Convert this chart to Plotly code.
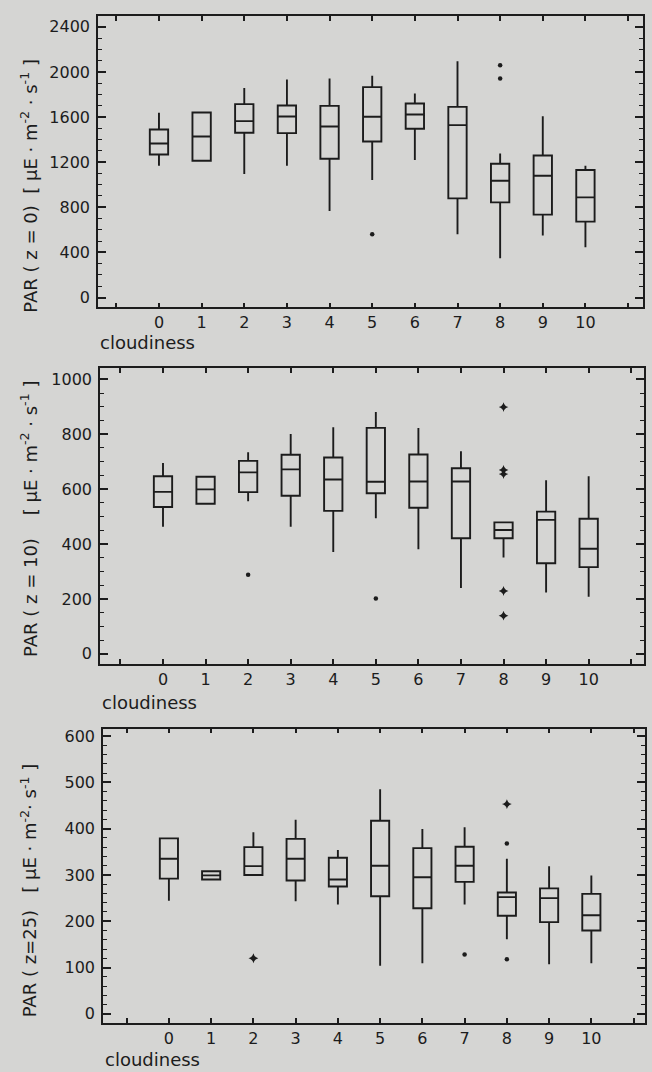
import plotly.graph_objects as go

# ---------------- data ----------------
categories = list(range(11))
xtick_vals = categories
xtick_text = [str(c) for c in categories]
xtick_extra = [-1, 11]   # unlabeled end ticks

# Panel 1: PAR (z = 0)
z0_low = [1168, 1212, 1095, 1168, 767, 1041, 1219, 560, 348, 549, 445]
z0_q1 = [1268, 1212, 1460, 1457, 1230, 1383, 1496, 879, 843, 735, 673]
z0_med = [1366, 1428, 1564, 1605, 1516, 1602, 1622, 1528, 1035, 1080, 888]
z0_q3 = [1490, 1640, 1714, 1702, 1699, 1865, 1720, 1690, 1186, 1259, 1130]
z0_high = [1637, 1640, 1858, 1932, 1941, 1965, 1808, 2095, 1277, 1608, 1168]
z0_dot_x = [5, 8, 8]
z0_dot_y = [560, 2059, 1941]
z0_star_x = []
z0_star_y = []

# Panel 2: PAR (z = 10)
z10_low = [463, 547, 556, 463, 371, 494, 381, 240, 351, 224, 208]
z10_q1 = [535, 547, 589, 576, 521, 585, 532, 421, 421, 330, 316]
z10_med = [590, 599, 661, 672, 635, 627, 628, 628, 451, 488, 383]
z10_q3 = [647, 645, 703, 725, 715, 823, 726, 676, 479, 518, 492]
z10_high = [695, 645, 734, 801, 825, 881, 823, 738, 479, 632, 647]
z10_dot_x = [2, 5]
z10_dot_y = [288, 202]
z10_star_x = [8, 8, 8, 8, 8]
z10_star_y = [899, 670, 655, 229, 139]

# Panel 3: PAR (z = 25)
z25_low = [244, 290, 300, 243, 236, 104, 109, 236, 161, 107, 109]
z25_q1 = [292, 290, 300, 288, 275, 254, 228, 285, 212, 198, 180]
z25_med = [335, 299, 319, 335, 290, 320, 295, 320, 252, 250, 213]
z25_q3 = [379, 308, 360, 378, 337, 417, 358, 361, 262, 271, 259]
z25_high = [379, 308, 392, 419, 354, 485, 399, 403, 335, 319, 299]
z25_dot_x = [7, 8, 8]
z25_dot_y = [128, 368, 118]
z25_star_x = [2, 8]
z25_star_y = [120, 453]

y_titles = [
    "PAR ( z = 0)  [ μE · m<sup>-2</sup> · s<sup>-1</sup> ]",
    "PAR ( z = 10)    [ μE · m<sup>-2</sup> · s<sup>-1</sup> ]",
    "PAR ( z=25)   [ μE · m<sup>-2</sup>· s<sup>-1</sup> ]",
]
x_title = "cloudiness"

# ---------------- styling ----------------
W, H = 652, 1072
BG = "#d5d5d3"
INK = "#1c1c1c"
FONT = "DejaVu Sans"

panels = [
    dict(low=z0_low, q1=z0_q1, med=z0_med, q3=z0_q3, high=z0_high,
         dx=z0_dot_x, dy=z0_dot_y, sx=z0_star_x, sy=z0_star_y,
         px=(98, 643), py=(14, 306), xr=[-1.43, 11.35], yr=[-88, 2496],
         dtick=400, minor=100, title_cy=184, xlab_y=341),
    dict(low=z10_low, q1=z10_q1, med=z10_med, q3=z10_q3, high=z10_high,
         dx=z10_dot_x, dy=z10_dot_y, sx=z10_star_x, sy=z10_star_y,
         px=(100, 644), py=(367, 663), xr=[-1.48, 11.3], yr=[-36, 1040],
         dtick=200, minor=50, title_cy=518, xlab_y=702),
    dict(low=z25_low, q1=z25_q1, med=z25_med, q3=z25_q3, high=z25_high,
         dx=z25_dot_x, dy=z25_dot_y, sx=z25_star_x, sy=z25_star_y,
         px=(103, 645), py=(728, 1023), xr=[-1.56, 11.27], yr=[-20, 616],
         dtick=100, minor=20, title_cy=890, xlab_y=1059),
]

fig = go.Figure()
layout_axes = {}
annotations = []

for i, p in enumerate(panels):
    n = "" if i == 0 else str(i + 1)
    xa, ya = "x" + n, "y" + n
    fig.add_trace(go.Box(
        x=categories, q1=p["q1"], median=p["med"], q3=p["q3"],
        lowerfence=p["low"], upperfence=p["high"],
        width=0.43, whiskerwidth=0, boxpoints=False,
        line=dict(color=INK, width=1.9), fillcolor="rgba(0,0,0,0)",
        xaxis=xa, yaxis=ya, hoverinfo="skip",
    ))
    if p["dx"]:
        fig.add_trace(go.Scatter(
            x=p["dx"], y=p["dy"], mode="markers", xaxis=xa, yaxis=ya,
            marker=dict(symbol="circle", size=4.5, color=INK),
        ))
    if p["sx"]:
        fig.add_trace(go.Scatter(
            x=p["sx"], y=p["sy"], mode="markers", xaxis=xa, yaxis=ya,
            marker=dict(symbol="star-diamond", size=7, color=INK),
        ))

    xdom = [p["px"][0] / W, p["px"][1] / W]
    ydom = [1 - p["py"][1] / H, 1 - p["py"][0] / H]
    layout_axes["xaxis" + n] = dict(
        domain=xdom, range=p["xr"], anchor=ya,
        tickmode="array", tickvals=xtick_vals, ticktext=xtick_text,
        ticks="inside", ticklen=5, tickwidth=1.5, tickcolor=INK,
        minor=dict(tickmode="array", tickvals=xtick_extra, ticks="inside",
                   ticklen=5, tickwidth=1.5, tickcolor=INK, showgrid=False),
        showline=True, linecolor=INK, linewidth=1.6, mirror="ticks",
        showgrid=False, zeroline=False, ticklabelstandoff=0,
        tickfont=dict(family=FONT, size=16, color=INK),
    )
    layout_axes["yaxis" + n] = dict(
        domain=ydom, range=p["yr"], anchor=xa,
        tick0=0, dtick=p["dtick"],
        ticks="inside", ticklen=8, tickwidth=1.5, tickcolor=INK,
        minor=dict(dtick=p["minor"], tick0=0, ticks="inside", ticklen=4,
                   tickwidth=1.2, tickcolor=INK, showgrid=False),
        showline=True, linecolor=INK, linewidth=1.6, mirror="ticks",
        showgrid=False, zeroline=False, ticklabelstandoff=3,
        tickfont=dict(family=FONT, size=16, color=INK),
    )
    annotations.append(dict(
        text=y_titles[i], x=29 / W, y=1 - p["title_cy"] / H,
        xref="paper", yref="paper",
        xanchor="center", yanchor="middle", textangle=-90, showarrow=False,
        font=dict(family=FONT, size=18, color=INK),
    ))
    annotations.append(dict(
        text=x_title, x=p["px"][0] / W, y=1 - p["xlab_y"] / H,
        xref="paper", yref="paper", xanchor="left", yanchor="middle",
        showarrow=False, font=dict(family=FONT, size=18, color=INK),
    ))

fig.update_layout(
    width=W, height=H, margin=dict(l=0, r=0, t=0, b=0),
    paper_bgcolor=BG, plot_bgcolor=BG, showlegend=False,
    annotations=annotations, **layout_axes,
)

fig.write_html(
    "out.html",
    config={"displayModeBar": False},
    post_script="document.body.style.margin='0px';document.body.style.background='%s';" % BG,
)
